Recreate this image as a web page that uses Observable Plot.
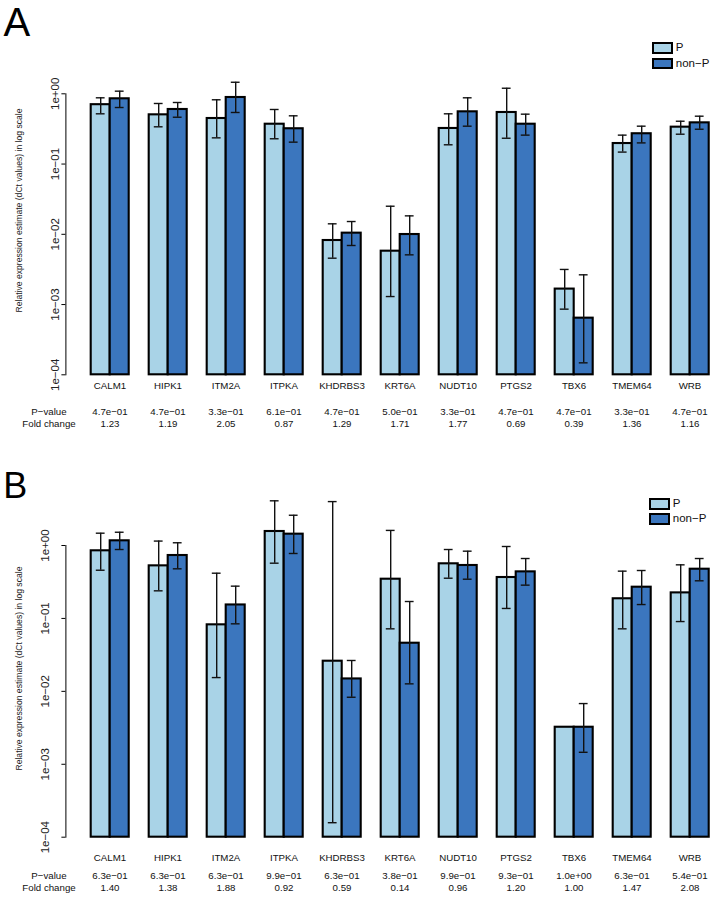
<!DOCTYPE html>
<html><head><meta charset="utf-8">
<script src="https://cdn.jsdelivr.net/npm/d3@7"></script>
<script src="https://cdn.jsdelivr.net/npm/@observablehq/plot@0.6"></script>
<style>
body{margin:0;background:#fff;font-family:"Liberation Sans",Arial,Helvetica,sans-serif;}
#page{position:relative;width:720px;height:897px;overflow:hidden;background:#fff;}
.panel{position:absolute;left:0;}
.panel svg{display:block;}
.letter{position:absolute;line-height:1;color:#000;}
.sw{position:absolute;box-sizing:border-box;border:2px solid #000;width:20.5px;height:11.8px;}
.lt{position:absolute;font-size:11.5px;line-height:1;transform:translateY(-50%);color:#111;}
</style></head><body>
<div id="page"></div>
<script>
// ---- data ----
const genes = ["CALM1","HIPK1","ITM2A","ITPKA","KHDRBS3","KRT6A","NUDT10","PTGS2","TBX6","TMEM64","WRB"];
const groups = ["P","non-P"];
const groupLabels = ["P","non\u2212P"];
const barColors = ["#a9d3e7","#3b76be"];
const yTicks = [1e-4,1e-3,1e-2,1e-1,1];
const yDomain = [1e-4,1];
const yBase = 1e-4;
const yLabel = "Relative expression estimate (dCt values) in log scale";
const rowHeaders = ["P\u2212value","Fold change"];

// Panel A
const aP    = [0.70, 0.502, 0.445, 0.369, 0.00816, 0.00575, 0.321, 0.542, 0.00166, 0.196, 0.335];
const aPlo  = [0.519, 0.339, 0.236, 0.229, 0.00457, 0.0013, 0.188, 0.233, 0.00086, 0.148, 0.266];
const aPhi  = [0.877, 0.728, 0.822, 0.598, 0.0141, 0.0251, 0.519, 1.20, 0.00316, 0.258, 0.407];
const aN    = [0.849, 0.598, 0.886, 0.318, 0.01038, 0.00993, 0.554, 0.369, 0.00064, 0.270, 0.386];
const aNlo  = [0.638, 0.464, 0.542, 0.205, 0.00693, 0.0051, 0.346, 0.258, 0.000148, 0.200, 0.313];
const aNhi  = [1.09, 0.752, 1.46, 0.486, 0.0152, 0.0183, 0.877, 0.513, 0.00265, 0.346, 0.48];
const aPval = ["4.7e\u221201","4.7e\u221201","3.3e\u221201","6.1e\u221201","4.7e\u221201","5.0e\u221201","3.3e\u221201","4.7e\u221201","4.7e\u221201","3.3e\u221201","4.7e\u221201"];
const aFold = ["1.23","1.19","2.05","0.87","1.29","1.71","1.77","0.69","0.39","1.36","1.16"];

// Panel B
const bP    = [0.846, 0.526, 0.0817, 1.556, 0.0259, 0.345, 0.561, 0.364, 0.00322, 0.186, 0.224];
const bPlo  = [0.458, 0.239, 0.01545, 0.572, 0.000158, 0.072, 0.356, 0.137, null, 0.072, 0.0906];
const bPhi  = [1.475, 1.15, 0.417, 4.1, 4.0, 1.61, 0.881, 0.969, null, 0.445, 0.543];
const bN    = [1.16, 0.729, 0.153, 1.43, 0.0148, 0.0457, 0.532, 0.435, 0.00322, 0.268, 0.473];
const bNlo  = [0.881, 0.479, 0.0843, 0.777, 0.0083, 0.01267, 0.345, 0.286, 0.00146, 0.155, 0.328];
const bNhi  = [1.52, 1.09, 0.277, 2.6, 0.0265, 0.1706, 0.836, 0.663, 0.0068, 0.454, 0.663];
const bPval = ["6.3e\u221201","6.3e\u221201","6.3e\u221201","9.9e\u221201","6.3e\u221201","3.8e\u221201","9.9e\u221201","9.3e\u221201","1.0e+00","6.3e\u221201","5.4e\u221201"];
const bFold = ["1.40","1.38","1.88","0.92","0.59","0.14","0.96","1.20","1.00","1.47","2.08"];

// ---- drawing ----
const fmt = d => { const e = Math.round(Math.log10(d)); return "1e" + (e < 0 ? "\u2212" : "+") + String(Math.abs(e)).padStart(2, "0"); };

function drawPanel(s, L) {
  const rows = [];
  genes.forEach((g, i) => {
    rows.push({gene: g, group: groups[0], value: s.p[i], lo: s.plo[i], hi: s.phi[i]});
    rows.push({gene: g, group: groups[1], value: s.n[i], lo: s.nlo[i], hi: s.nhi[i]});
  });
  const table = genes.map((g, i) => ({gene: g, pval: s.pval[i], fold: s.fold[i]}));
  return Plot.plot({
    width: 720, height: L.height,
    marginLeft: L.left, marginRight: L.right, marginTop: L.top, marginBottom: L.bottom,
    style: {fontFamily: "'Liberation Sans', Arial, Helvetica, sans-serif", fontSize: "10px", background: "#fff", color: "#000", overflow: "visible"},
    fx: {domain: genes, paddingInner: 1/3, paddingOuter: 0, axis: null, label: null},
    x: {domain: groups, padding: 0, axis: null},
    y: {type: "log", domain: yDomain},
    color: {domain: groups, range: barColors},
    marks: [
      Plot.barY(rows, {fx: "gene", x: "group", y1: () => yBase, y2: "value", fill: "group", stroke: "#000", strokeWidth: 2.1}),
      Plot.ruleX(rows, {fx: "gene", x: "group", y1: "lo", y2: "hi", stroke: "#111", strokeWidth: 1.4}),
      Plot.tickY(rows, {fx: "gene", x: "group", y: "lo", insetLeft: 5.1, insetRight: 5.1, stroke: "#111", strokeWidth: 1.4}),
      Plot.tickY(rows, {fx: "gene", x: "group", y: "hi", insetLeft: 5.1, insetRight: 5.1, stroke: "#111", strokeWidth: 1.4}),
      Plot.frame({anchor: "left", facetAnchor: "left", insetLeft: -L.shift, stroke: "#000", strokeWidth: 1}),
      Plot.axisY({ticks: yTicks, tickFormat: fmt, tickRotate: -90, tickSize: 4, tickPadding: L.tickPad, dx: -L.shift, fontSize: 11.5, label: null, facetAnchor: "left", stroke: "#000", fill: "#222"}),
      Plot.text([yLabel], {frameAnchor: "left", facetAnchor: "left", rotate: -90, textAnchor: "middle", lineAnchor: "middle", dx: L.ylabDx, dy: L.ylabDy, fontSize: 8.6, fill: "#222"}),
      Plot.text(table, {fx: "gene", text: "gene", frameAnchor: "bottom", lineAnchor: "middle", dy: L.geneDy, fontSize: 9.7, fill: "#111"}),
      Plot.text(table, {fx: "gene", text: "pval", frameAnchor: "bottom", lineAnchor: "middle", dy: L.pDy, fontSize: 9.7, fill: "#111"}),
      Plot.text(table, {fx: "gene", text: "fold", frameAnchor: "bottom", lineAnchor: "middle", dy: L.fDy, fontSize: 9.7, fill: "#111"}),
      Plot.text([rowHeaders[0]], {frameAnchor: "bottom", facetAnchor: "left", lineAnchor: "middle", dx: L.headDx, dy: L.pDy, fontSize: 9.7, fill: "#111"}),
      Plot.text([rowHeaders[1]], {frameAnchor: "bottom", facetAnchor: "left", lineAnchor: "middle", dx: L.headDx, dy: L.fDy, fontSize: 9.7, fill: "#111"})
    ]
  });
}

const page = document.getElementById("page");
function addPanel(top, s, L, letter, lg) {
  const div = document.createElement("div");
  div.className = "panel"; div.style.top = top + "px";
  div.appendChild(drawPanel(s, L));
  page.appendChild(div);
  const t = document.createElement("div");
  t.className = "letter"; t.textContent = letter.text;
  t.style.left = letter.x + "px"; t.style.top = letter.y + "px"; t.style.fontSize = letter.size + "px";
  page.appendChild(t);
  groups.forEach((g, i) => {
    const b = document.createElement("div");
    b.className = "sw"; b.style.background = barColors[i];
    b.style.left = lg.x + "px"; b.style.top = (lg.y + i * lg.step) + "px";
    page.appendChild(b);
    const tx = document.createElement("div");
    tx.className = "lt"; tx.textContent = groupLabels[i];
    tx.style.left = (lg.x + 23.5) + "px"; tx.style.top = (lg.y + i * lg.step + 6) + "px";
    page.appendChild(tx);
  });
}

addPanel(0,
  {p: aP, plo: aPlo, phi: aPhi, n: aN, nlo: aNlo, nhi: aNhi, pval: aPval, fold: aFold},
  {height: 448, left: 87.3, right: 7.7, top: 93.3, bottom: 73.7, shift: 24.6, tickPad: 3,
   ylabDx: -70.8, ylabDy: -23.8, geneDy: 11.4, pDy: 37.4, fDy: 49, headDx: -61},
  {text: "A", x: 3.5, y: 2.2, size: 40},
  {x: 652.3, y: 42.2, step: 15.4});

addPanel(448,
  {p: bP, plo: bPlo, phi: bPhi, n: bN, nlo: bNlo, nhi: bNhi, pval: bPval, fold: bFold},
  {height: 449, left: 87.3, right: 7.7, top: 97, bottom: 60.3, shift: 24.6, tickPad: 12.5,
   ylabDx: -70.8, ylabDy: -22.8, geneDy: 20.6, pDy: 38.6, fDy: 51, headDx: -61},
  {text: "B", x: 3.2, y: 467.8, size: 36},
  {x: 649.3, y: 498.3, step: 15});
</script>
</body></html>
